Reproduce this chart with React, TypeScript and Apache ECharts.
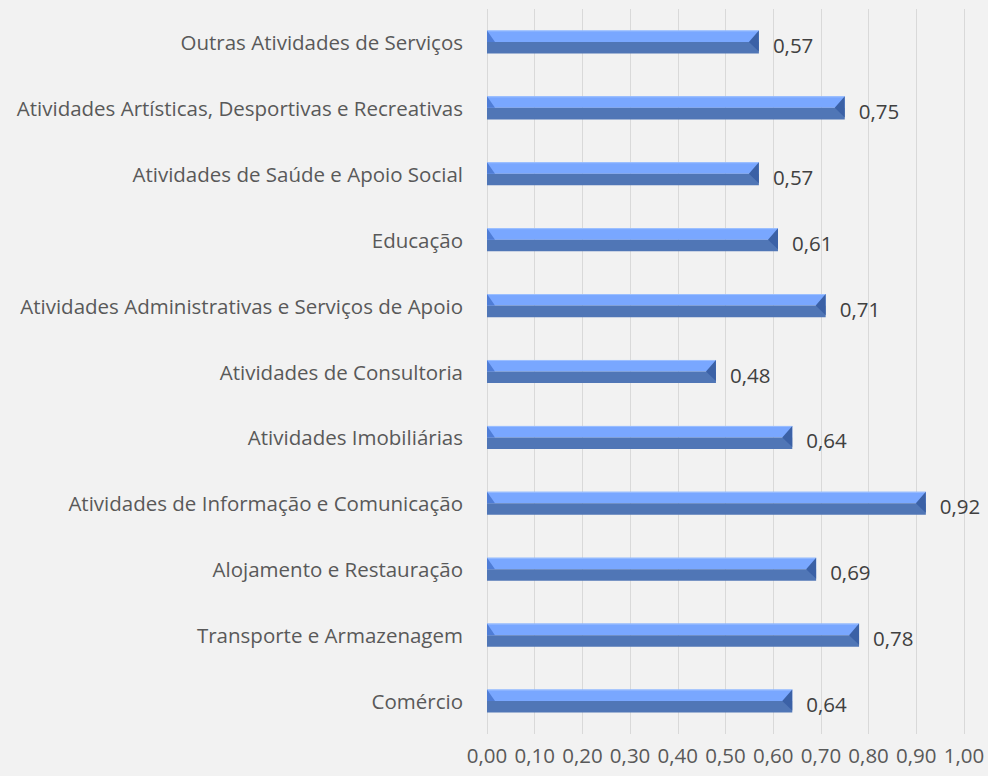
import React, { useEffect, useRef } from "react";
import * as echarts from "echarts";

const categories = [
  "Comércio",
  "Transporte e Armazenagem",
  "Alojamento e Restauração",
  "Atividades de Informação e Comunicação",
  "Atividades Imobiliárias",
  "Atividades de Consultoria",
  "Atividades Administrativas e Serviços de Apoio",
  "Educação",
  "Atividades de Saúde e Apoio Social",
  "Atividades Artísticas, Desportivas e Recreativas",
  "Outras Atividades de Serviços",
];
const values = [0.64, 0.78, 0.69, 0.92, 0.64, 0.48, 0.71, 0.61, 0.57, 0.75, 0.57];

const FONT = "'Open Sans', sans-serif";
const FS = 20.5;
const fmt = (v: number) => v.toFixed(2).replace(".", ",");

export default function App() {
  const ref = useRef<HTMLDivElement>(null);
  useEffect(() => {
    document.body.style.margin = "0";
    const chart = echarts.init(ref.current!, null, { renderer: "svg" });
    chart.setOption({
      animation: false,
      backgroundColor: "#F2F2F2",
      grid: { left: 487, right: 24, top: 9, bottom: 42 },
      xAxis: {
        type: "value",
        min: 0,
        max: 1,
        interval: 0.1,
        axisLine: { show: false },
        axisTick: { show: false },
        splitLine: { show: true, lineStyle: { color: "#D9D9D9", width: 1 } },
        axisLabel: {
          formatter: (v: number) => fmt(v),
          color: "#595959",
          fontFamily: FONT,
          fontSize: FS,
          margin: 10,
        },
      },
      yAxis: {
        type: "category",
        data: categories,
        axisLine: { show: false },
        axisTick: { show: false },
        axisLabel: {
          color: "#595959",
          fontFamily: FONT,
          fontSize: FS,
          margin: 24,
          padding: [4, 0, 0, 0],
        },
      },
      series: [
        {
          type: "custom",
          encode: { x: 0, y: 1 },
          data: values.map((v, i) => [v, i]),
          renderItem: (params: any, api: any) => {
            const v = api.value(0);
            const idx = api.value(1);
            const start = api.coord([0, idx]);
            const end = api.coord([v, idx]);
            const bandH = api.size([0, 1])[1];
            const h = bandH * 0.35;
            const x0 = start[0];
            const x1 = end[0];
            const yc = start[1];
            const top = yc - h / 2;
            const bot = yc + h / 2;
            const mid = yc;
            const bev = 8;
            return {
              type: "group",
              children: [
                { type: "rect", shape: { x: x0, y: top, width: x1 - x0, height: mid - top }, style: { fill: "#79A7FF" } },
                { type: "rect", shape: { x: x0, y: mid, width: x1 - x0, height: bot - mid }, style: { fill: "#5076B6" } },
                { type: "line", shape: { x1: x0, y1: top + 0.5, x2: x1, y2: top + 0.5 }, style: { stroke: "#9DC0FF", lineWidth: 1 } },
                { type: "polygon", shape: { points: [[x0, top], [x0 + bev, mid], [x0, mid]] }, style: { fill: "#4F7DD6" } },
                { type: "polygon", shape: { points: [[x1, top], [x1 - bev - 2, mid], [x1, bot - 2]] }, style: { fill: "#3B61A6" } },
                {
                  type: "text",
                  style: {
                    x: x1 + 14,
                    y: yc + 3,
                    text: fmt(v),
                    fill: "#404040",
                    font: `${FS}px ${FONT}`,
                    verticalAlign: "middle",
                    align: "left",
                  },
                },
              ],
            };
          },
        },
      ],
    });
    return () => chart.dispose();
  }, []);
  return (
    <div
      ref={ref}
      style={{ position: "fixed", left: 0, top: 0, width: 988, height: 776 }}
    />
  );
}
